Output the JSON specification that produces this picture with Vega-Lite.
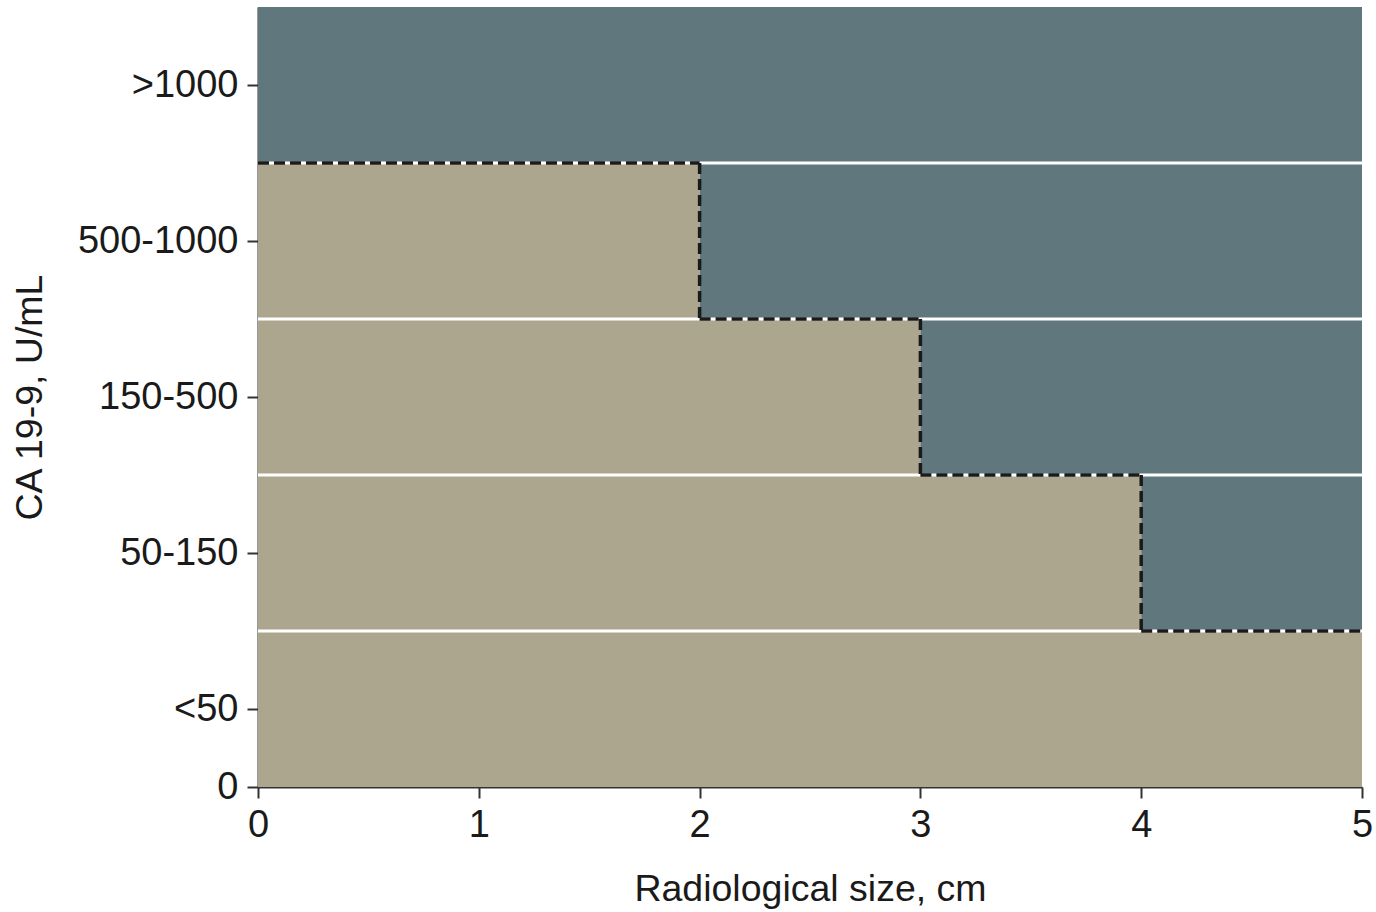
{
  "$schema": "https://vega.github.io/schema/vega-lite/v6.json",
  "width": 1104,
  "height": 780,
  "autosize": "none",
  "padding": {"left": 258, "top": 7, "right": 14, "bottom": 125},
  "background": "white",
  "config": {
    "view": {"stroke": null},
    "font": "Liberation Sans",
    "axis": {
      "labelFont": "Liberation Sans",
      "titleFont": "Liberation Sans",
      "labelFontSize": 38,
      "titleFontSize": 37.5,
      "titleFontWeight": "normal",
      "labelColor": "#1a1a1a",
      "titleColor": "#1a1a1a",
      "domainColor": "#333333",
      "domainWidth": 2,
      "tickColor": "#333333",
      "tickWidth": 2,
      "tickSize": 11,
      "grid": false
    }
  },
  "datasets": {
    "cells": [
      {"band": "<50", "y0": 0, "y1": 1, "x0": 0, "x1": 5, "risk": "Low"},
      {"band": "50-150", "y0": 1, "y1": 2, "x0": 0, "x1": 4, "risk": "Low"},
      {"band": "50-150", "y0": 1, "y1": 2, "x0": 4, "x1": 5, "risk": "High"},
      {"band": "150-500", "y0": 2, "y1": 3, "x0": 0, "x1": 3, "risk": "Low"},
      {"band": "150-500", "y0": 2, "y1": 3, "x0": 3, "x1": 5, "risk": "High"},
      {"band": "500-1000", "y0": 3, "y1": 4, "x0": 0, "x1": 2, "risk": "Low"},
      {"band": "500-1000", "y0": 3, "y1": 4, "x0": 2, "x1": 5, "risk": "High"},
      {"band": ">1000", "y0": 4, "y1": 5, "x0": 0, "x1": 5, "risk": "High"}
    ],
    "separators": [
      {"y": 1}, {"y": 2}, {"y": 3}, {"y": 4}
    ],
    "stairs": [
      {"xa": 0, "xb": 2, "ya": 4, "yb": 4},
      {"xa": 2, "xb": 2, "ya": 4, "yb": 3},
      {"xa": 2, "xb": 3, "ya": 3, "yb": 3},
      {"xa": 3, "xb": 3, "ya": 3, "yb": 2},
      {"xa": 3, "xb": 4, "ya": 2, "yb": 2},
      {"xa": 4, "xb": 4, "ya": 2, "yb": 1},
      {"xa": 4, "xb": 5, "ya": 1, "yb": 1}
    ]
  },
  "layer": [
    {
      "data": {"name": "cells"},
      "mark": {"type": "rect", "strokeWidth": 0},
      "encoding": {
        "x": {
          "field": "x0", "type": "quantitative",
          "scale": {"domain": [0, 5], "nice": false, "zero": false},
          "axis": {
            "values": [0, 1, 2, 3, 4, 5],
            "format": "d",
            "labelFlush": false,
            "title": "Radiological size, cm",
            "labelPadding": 8,
            "titlePadding": 26
          }
        },
        "x2": {"field": "x1"},
        "y": {
          "field": "y0", "type": "quantitative",
          "scale": {"domain": [0, 5], "nice": false, "zero": false},
          "axis": {
            "values": [0, 0.5, 1.5, 2.5, 3.5, 4.5],
            "labelExpr": "datum.value == 0 ? '0' : datum.value == 0.5 ? '<50' : datum.value == 1.5 ? '50-150' : datum.value == 2.5 ? '150-500' : datum.value == 3.5 ? '500-1000' : '>1000'",
            "labelFlush": false,
            "title": "CA 19-9, U/mL",
            "labelPadding": 9,
            "titlePadding": 28
          }
        },
        "y2": {"field": "y1"},
        "color": {
          "field": "risk", "type": "nominal",
          "scale": {"domain": ["Low", "High"], "range": ["#ADA68F", "#60777D"]},
          "legend": null
        }
      }
    },
    {
      "data": {"name": "separators"},
      "mark": {"type": "rule", "color": "white", "strokeWidth": 3},
      "encoding": {
        "y": {"field": "y", "type": "quantitative"},
        "x": {"datum": 0, "type": "quantitative"},
        "x2": {"datum": 5}
      }
    },
    {
      "data": {"name": "stairs"},
      "mark": {"type": "rule", "color": "#1a1a1a", "strokeWidth": 3.5, "strokeDash": [11, 5]},
      "encoding": {
        "x": {"field": "xa", "type": "quantitative"},
        "x2": {"field": "xb"},
        "y": {"field": "ya", "type": "quantitative"},
        "y2": {"field": "yb"}
      }
    }
  ]
}
